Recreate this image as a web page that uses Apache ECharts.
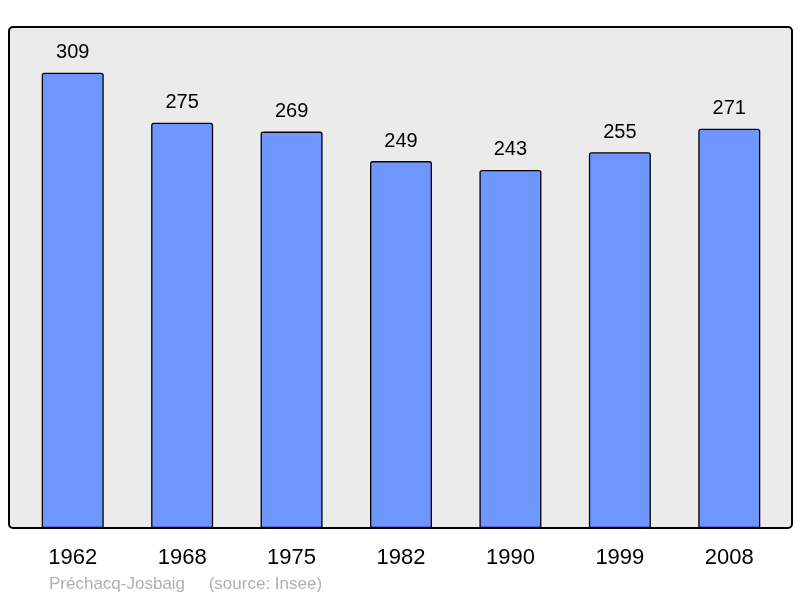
<!DOCTYPE html>
<html>
<head>
<meta charset="utf-8">
<script src="https://cdn.jsdelivr.net/npm/echarts@6/dist/echarts.min.js"></script>
<style>
	html, body { margin: 0; padding: 0; background: #fff; }
	#chart { width: 800px; height: 598px; }
</style>
</head>
<body>
<div id="chart"></div>
<script>
const years = ["1962", "1968", "1975", "1982", "1990", "1999", "2008"];
const population = [309, 275, 269, 249, 243, 255, 271];
const footer = "Préchacq-Josbaig     (source: Insee)";

const chart = echarts.init(document.getElementById("chart"), null, { renderer: "canvas" });

chart.setOption({
	animation : false,
	textStyle : { fontFamily: "Liberation Sans, Arial, sans-serif" },
	grid      : {
		left   : 18,
		right  : 16,
		top    : 27,
		bottom : 70,
	},
	graphic: [
		{
			type  : "rect",
			z     : -10,
			shape : { x: 9, y: 27, width: 783, height: 501, r: 4 },
			style : { fill: "#ebebeb", stroke: "#000", lineWidth: 2 },
		},
		{
			type  : "text",
			left  : 49,
			top   : 576,
			style : {
				text       : footer,
				fill       : "#b0b0b0",
				fontSize   : 17,
				fontFamily : "Liberation Sans, Arial, sans-serif",
			},
		},
	],
	xAxis: {
		type      : "category",
		data      : years,
		axisLine  : { show: false },
		axisTick  : { show: false },
		axisLabel : {
			color    : "#000",
			fontSize : 22,
			margin   : 19,
		},
	},
	yAxis: {
		type      : "value",
		min       : 0,
		max       : 340,
		show      : false,
		splitLine : { show: false },
	},
	series: [
		{
			type      : "bar",
			data      : population,
			barWidth  : 62,
			itemStyle : {
				color        : "#6f96ff",
				borderColor  : "#000",
				borderWidth  : 1.3,
				borderRadius : [2, 2, 0, 0],
			},
			label: {
				show     : true,
				position : "top",
				distance : 10,
				color    : "#000",
				fontSize : 20,
			},
		},
	],
});
</script>
</body>
</html>
